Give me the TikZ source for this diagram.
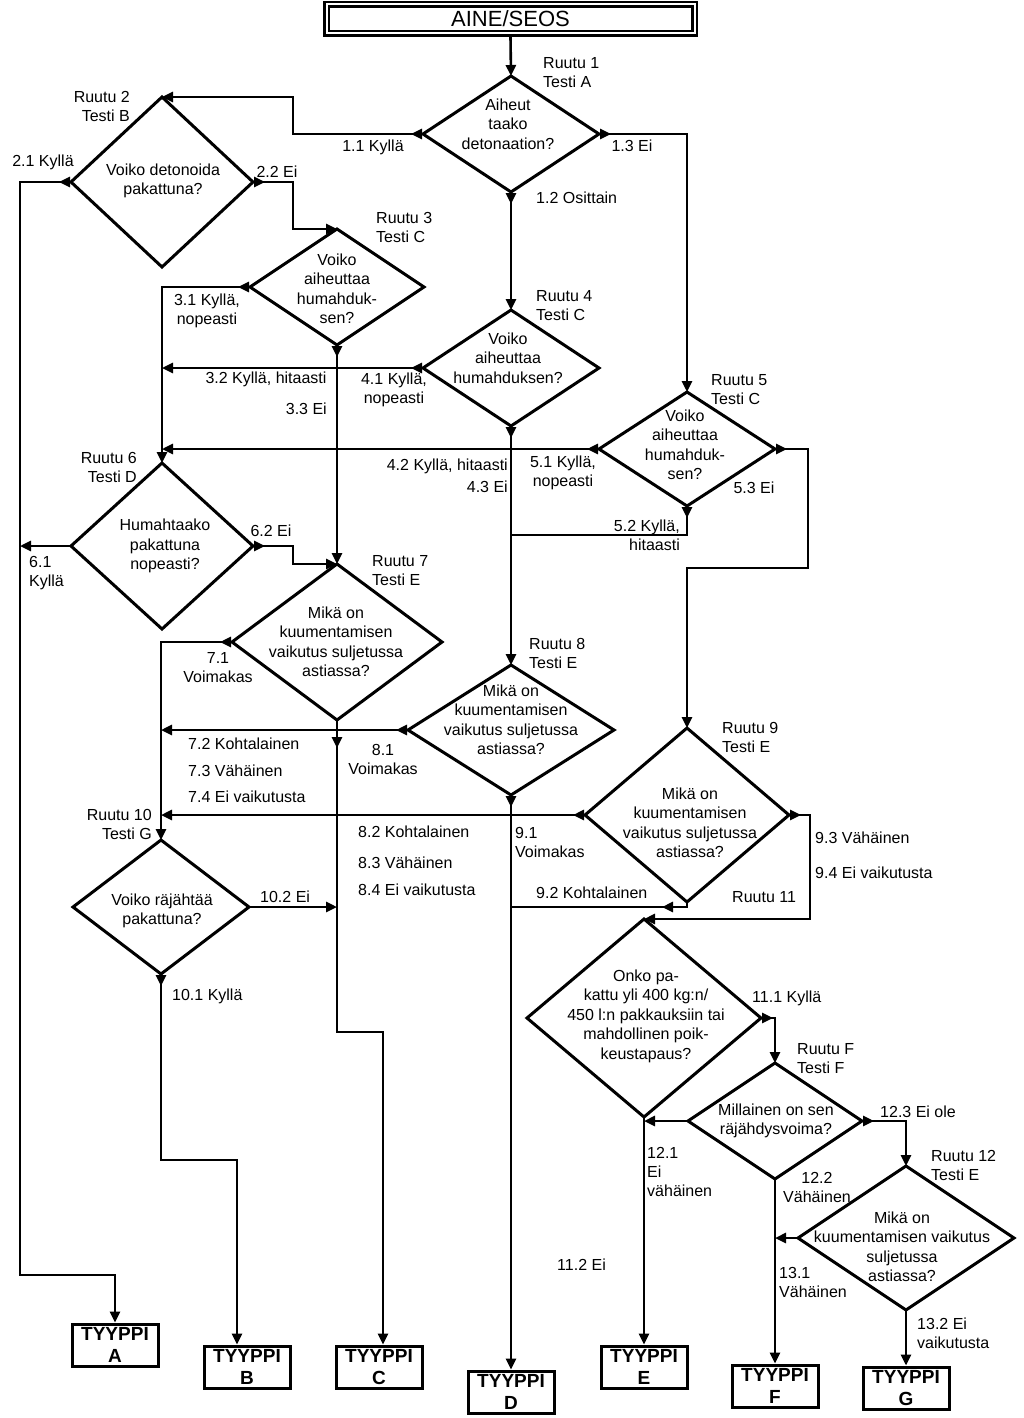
\documentclass[tikz,border=0pt]{standalone}
\usepackage{fontspec}
\setmainfont{Liberation Sans}
\usetikzlibrary{arrows.meta,shapes.geometric,decorations.markings}
\begin{document}
\begin{tikzpicture}[x=1pt,y=-1pt,
  >={Triangle[length=11pt,width=10pt]},
  dia/.style={shape=diamond, draw, line width=3pt, inner sep=0pt, outer sep=0pt},
  dtext/.style={font=\fontsize{16}{19.5}\selectfont, align=center, inner sep=0pt},
  lbl/.style={font=\fontsize{16}{19}\selectfont, inner sep=0pt},
  term/.style={draw, line width=3pt, minimum width=86pt, minimum height=42pt, inner sep=0pt, outer sep=1.5pt, font=\bfseries\fontsize{19}{22}\selectfont, align=center},
  conn/.style={line width=2.6pt},
  ex/.style={postaction={decorate,decoration={markings,mark=at position #1 with {\arrow{>}}}}},
  ex/.default=12pt
]
\useasboundingbox (0,0) rectangle (1023,1418);

% title box
\node[draw, double, line width=2.5pt, double distance=2pt, minimum width=368pt, minimum height=29pt,
      inner sep=0pt, outer sep=3.5pt, font=\fontsize{22}{24}\selectfont] (top) at (510.5,19) {AINE/SEOS};

% diamonds
\node[dia, minimum width=176pt, minimum height=116pt] (d1) at (511,134) {};
\node[dia, minimum width=182pt, minimum height=170pt] (d2) at (162,182) {};
\node[dia, minimum width=174pt, minimum height=116pt] (d3) at (337,287) {};
\node[dia, minimum width=176pt, minimum height=116pt] (d4) at (511,368) {};
\node[dia, minimum width=176pt, minimum height=114pt] (d5) at (687,449) {};
\node[dia, minimum width=182pt, minimum height=166pt] (d6) at (162,546) {};
\node[dia, minimum width=210pt, minimum height=156pt] (d7) at (337,642) {};
\node[dia, minimum width=206pt, minimum height=130pt] (d8) at (511,730) {};
\node[dia, minimum width=204pt, minimum height=174pt] (d9) at (687,815) {};
\node[dia, minimum width=176pt, minimum height=134pt] (d10) at (161,907) {};
\node[dia, minimum width=234pt, minimum height=198pt] (d11) at (644,1018) {};
\node[dia, minimum width=174pt, minimum height=116pt] (dF) at (775,1121) {};
\node[dia, minimum width=216pt, minimum height=144pt] (d12) at (906,1238) {};

% diamond texts
\node[dtext] (t1) at (508,124) {Aiheut\\taako\\detonaation?};
\node[dtext] (t2) at (163,181) {Voiko detonoida\\pakattuna?};
\node[dtext] (t3) at (337,289) {Voiko\\aiheuttaa\\humahduk-\\sen?};
\node[dtext] (t4) at (508,358) {Voiko\\aiheuttaa\\humahduksen?};
\node[dtext] (t5) at (685,445) {Voiko\\aiheuttaa\\humahduk-\\sen?};
\node[dtext] (t6) at (165,546) {Humahtaako\\pakattuna\\nopeasti?};
\node[dtext] (t7) at (336,642) {Mikä on\\kuumentamisen\\vaikutus suljetussa\\astiassa?};
\node[dtext] (t8) at (511,720) {Mikä on\\kuumentamisen\\vaikutus suljetussa\\astiassa?};
\node[dtext] (t9) at (690,823) {Mikä on\\kuumentamisen\\vaikutus suljetussa\\astiassa?};
\node[dtext] (t10) at (162,911) {Voiko räjähtää\\pakattuna?};
\node[dtext] (t11) at (646,1016) {Onko pa-\\kattu yli 400 kg:n/\\450 l:n pakkauksiin tai\\mahdollinen poik-\\keustapaus?};
\node[dtext] (tF2) at (776,1121) {Millainen on sen\\räjähdysvoima?};
\node[dtext] (t12) at (902,1247) {Mikä on\\kuumentamisen vaikutus\\suljetussa\\astiassa?};

% terminals
\node[term] (tA) at (115,1345) {TYYPPI\\A};
\node[term] (tB) at (247,1367) {TYYPPI\\B};
\node[term] (tC) at (379,1367) {TYYPPI\\C};
\node[term] (tD) at (511,1392) {TYYPPI\\D};
\node[term] (tE) at (644,1367) {TYYPPI\\E};
\node[term] (tF) at (775,1386) {TYYPPI\\F};
\node[term] (tG) at (906,1388) {TYYPPI\\G};

% junction coordinates
\coordinate (k1) at (293,97);
\coordinate (k2) at (293,229);
\coordinate (k62) at (293,564);
\coordinate (kA) at (20,1275);
\coordinate (k52) at (511,535);
\coordinate (k53) at (808,568);
\coordinate (kC) at (337,1032);
\coordinate (k92) at (511,907);
\coordinate (k93) at (810,919);
\coordinate (kB) at (161,1160);

% connectors
\draw[conn,->] (top.south) -- (d1.north);
\draw[conn,->,ex] (d1.west) -| (k1) -- (d2.north);
\draw[conn,->,ex] (d1.south) -- (d4.north);
\draw[conn,->,ex] (d1.east) -| (d5.north);
\draw[conn,->,ex] (d2.west) -| (kA) -| (tA.north);
\draw[conn,->,ex] (d2.east) -| (k2) -- (d3.north);
\draw[conn,->,ex] (d3.west) -| (d6.north);
\draw[conn,->,ex] (d3.south) -- (d7.north);
\draw[conn,->,ex] (d4.west) -- (d4.west -| d6.north);
\draw[conn,->,ex] (d4.south) -- (d8.north);
\draw[conn,->,ex] (d5.west) -- (d5.west -| d6.north);
\draw[conn,ex] (d5.south) |- (k52);
\draw[conn,->,ex] (d5.east) -| (k53) -| (d9.north);
\draw[conn,->] (d6.west) -- (d6.west -| kA);
\draw[conn,->,ex] (d6.east) -| (k62) -- (d7.north);
\draw[conn,->,ex] (d7.west) -| (d10.north);
\draw[conn,->,ex=28pt] (d7.south) -- (kC) -| ([xshift=4pt]tC.north);
\draw[conn,->,ex] (d8.west) -- (d8.west -| d10.north);
\draw[conn,->,ex] (d8.south) -- (tD.north);
\draw[conn,->,ex] (d9.west) -- (d9.west -| d10.north);
\draw[conn,ex=30pt] (d9.south) |- (k92);
\draw[conn,->,ex] (d9.east) -| (k93) -- (d11.north);
\draw[conn,->,ex] (d10.south) -- (kB) -| ([xshift=-10pt]tB.north);
\draw[conn,->] (d10.east) -- (d10.east -| d7.south);
\draw[conn,->,ex] (d11.east) -| (dF.north);
\draw[conn,->] (d11.south) -- (tE.north);
\draw[conn,->] (dF.west) -- (dF.west -| d11.south);
\draw[conn,->] (dF.south) -- (tF.north);
\draw[conn,->,ex] (dF.east) -| (d12.north);
\draw[conn,->] (d12.west) -- (d12.west -| dF.south);
\draw[conn,->] (d12.south) -- (tG.north);

% box labels
\node[lbl, anchor=west, align=left] (r1) at (543,73) {Ruutu 1\\Testi A};
\node[lbl, anchor=east, align=right] (r2) at (130,106.5) {Ruutu 2\\Testi B};
\node[lbl, anchor=west, align=left] (r3) at (376,227) {Ruutu 3\\Testi C};
\node[lbl, anchor=west, align=left] (r4) at (536,306) {Ruutu 4\\Testi C};
\node[lbl, anchor=west, align=left] (r5) at (711,390) {Ruutu 5\\Testi C};
\node[lbl, anchor=east, align=right] (r6) at (137,467.5) {Ruutu 6\\Testi D};
\node[lbl, anchor=west, align=left] (r7) at (372,571) {Ruutu 7\\Testi E};
\node[lbl, anchor=west, align=left] (r8) at (529,653) {Ruutu 8\\Testi E};
\node[lbl, anchor=west, align=left] (r9) at (722,737.5) {Ruutu 9\\Testi E};
\node[lbl, anchor=east, align=right] (r10) at (152,824) {Ruutu 10\\Testi G};
\node[lbl, anchor=west] (r11) at (732,897) {Ruutu 11};
\node[lbl, anchor=west, align=left] (rF) at (797,1059) {Ruutu F\\Testi F};
\node[lbl, anchor=west, align=left] (r12) at (931,1165) {Ruutu 12\\Testi E};

% branch labels
\node[lbl] (l11) at (373,147) {1.1 Kyllä};
\node[lbl] (l13) at (632,146) {1.3 Ei};
\node[lbl, anchor=west] (l12) at (536,198) {1.2 Osittain};
\node[lbl] (l21) at (43,162) {2.1 Kyllä};
\node[lbl] (l22) at (277,172) {2.2 Ei};
\node[lbl, align=center] (l31) at (207,311) {3.1 Kyllä,\\nopeasti};
\node[lbl] (l32) at (266,379) {3.2 Kyllä, hitaasti};
\node[lbl, anchor=east] (l33) at (327,409) {3.3 Ei};
\node[lbl, align=center] (l41) at (394,390) {4.1 Kyllä,\\nopeasti};
\node[lbl, anchor=east] (l42) at (508,466) {4.2 Kyllä, hitaasti};
\node[lbl, anchor=east] (l43) at (508,487) {4.3 Ei};
\node[lbl, align=center] (l51) at (563,473) {5.1 Kyllä,\\nopeasti};
\node[lbl, anchor=east, align=right] (l52) at (680,535.5) {5.2 Kyllä,\\hitaasti};
\node[lbl] (l53) at (754,488) {5.3 Ei};
\node[lbl, anchor=west, align=left] (l61) at (29,573.5) {6.1\\Kyllä};
\node[lbl] (l62) at (271,531) {6.2 Ei};
\node[lbl, align=center] (l71) at (218,668) {7.1\\Voimakas};
\node[lbl, anchor=west] (l72) at (188,744) {7.2 Kohtalainen};
\node[lbl, anchor=west] (l73) at (188,770.5) {7.3 Vähäinen};
\node[lbl, anchor=west] (l74) at (188,797) {7.4 Ei vaikutusta};
\node[lbl, align=center] (l81) at (383,759) {8.1\\Voimakas};
\node[lbl, anchor=west] (l82) at (358,832) {8.2 Kohtalainen};
\node[lbl, anchor=west] (l83) at (358,862.5) {8.3 Vähäinen};
\node[lbl, anchor=west] (l84) at (358,890) {8.4 Ei vaikutusta};
\node[lbl, anchor=west, align=left] (l91) at (515,842) {9.1\\Voimakas};
\node[lbl, anchor=west] (l92) at (536,892.5) {9.2 Kohtalainen};
\node[lbl, anchor=west] (l93) at (815,837.5) {9.3 Vähäinen};
\node[lbl, anchor=west] (l94) at (815,872.5) {9.4 Ei vaikutusta};
\node[lbl, anchor=west] (l102) at (260,897) {10.2 Ei};
\node[lbl, anchor=west] (l101) at (172,996) {10.1 Kyllä};
\node[lbl, anchor=west] (l111) at (752,998.5) {11.1 Kyllä};
\node[lbl, anchor=west] (l112) at (557,1265) {11.2 Ei};
\node[lbl, anchor=west, align=left] (l121) at (647,1172) {12.1\\Ei\\vähäinen};
\node[lbl, align=center] (l122) at (817,1187) {12.2\\Vähäinen};
\node[lbl, anchor=west] (l123) at (880,1112) {12.3 Ei ole};
\node[lbl, anchor=west, align=left] (l131) at (779,1282.5) {13.1\\Vähäinen};
\node[lbl, anchor=west, align=left] (l132) at (917,1333.5) {13.2 Ei\\vaikutusta};
\end{tikzpicture}
\end{document}
